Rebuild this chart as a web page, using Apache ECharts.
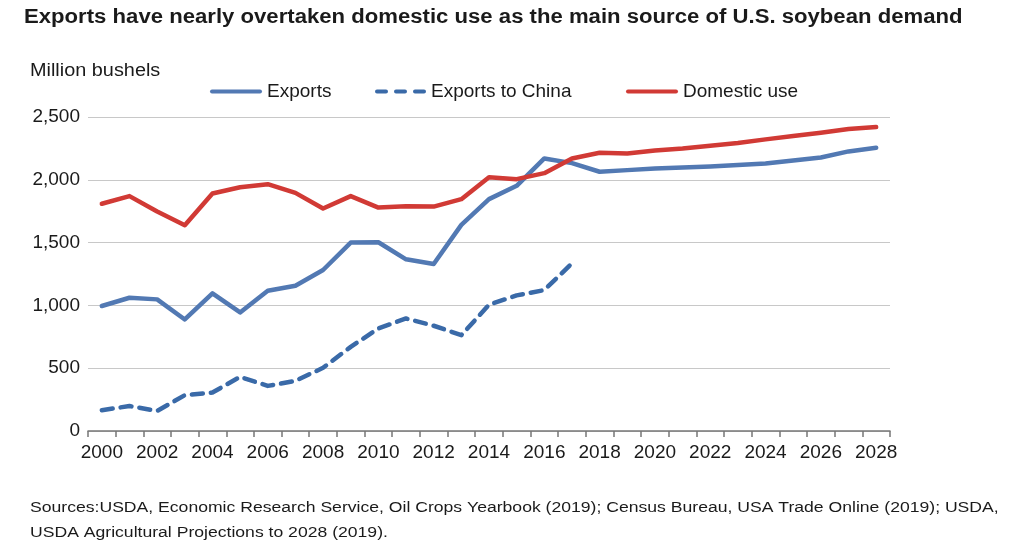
<!DOCTYPE html>
<html>
<head>
<meta charset="utf-8">
<script src="https://cdn.jsdelivr.net/npm/echarts@6/dist/echarts.min.js"></script>
<style>
html,body{margin:0;padding:0;background:#fff;}
#chart{width:1024px;height:545px;}
</style>
</head>
<body>
<div id="chart"></div>
<script>
const years = ['2000','2001','2002','2003','2004','2005','2006','2007','2008','2009','2010','2011','2012','2013','2014','2015','2016','2017','2018','2019','2020','2021','2022','2023','2024','2025','2026','2027','2028'];
const exportsData = [995,1061,1048,888,1096,944,1117,1157,1282,1500,1503,1367,1330,1641,1846,1952,2170,2133,2064,2077,2090,2098,2106,2117,2130,2154,2178,2226,2255];
const chinaData = [165,199,160,285,306,431,359,399,503,670,816,896,838,763,1005,1080,1122,1335];
const domesticData = [1809,1870,1747,1638,1891,1941,1965,1896,1771,1870,1779,1790,1787,1846,2021,2005,2053,2170,2215,2210,2234,2250,2271,2293,2322,2348,2375,2404,2420];
const titleText = 'Exports have nearly overtaken domestic use as the main source of U.S. soybean demand';
const unitText = 'Million bushels';
const sourceText = 'Sources:USDA, Economic Research Service, Oil Crops Yearbook (2019); Census Bureau, USA Trade Online (2019); USDA,\nUSDA Agricultural Projections to 2028 (2019).';

const FONT = '"Liberation Sans", Arial, Helvetica, sans-serif';
const TXT = '#1a1a1a';
const SX = 1.135;
const chart = echarts.init(document.getElementById('chart'), null, {renderer:'canvas'});
const legendText = {fontFamily: FONT, fontSize: 19, color: TXT};
const solidIcon = 'path://M2,0h48a2,2 0 0 1 0,4h-48a2,2 0 0 1 0,-4z';
const dashIcon = 'path://M2,0h9a2,2 0 0 1 0,4h-9a2,2 0 0 1 0,-4zM21,0h9a2,2 0 0 1 0,4h-9a2,2 0 0 1 0,-4zM40,0h9a2,2 0 0 1 0,4h-9a2,2 0 0 1 0,-4z';
chart.setOption({
  animation: false,
  backgroundColor: '#ffffff',
  graphic: [
    {type:'text', x: 24, y: 8, scaleX: SX, style:{text: titleText, fontFamily: FONT, fontSize: 19.5, fontWeight: 'bold', fill: TXT, textVerticalAlign:'top'}},
    {type:'text', x: 30, y: 62, scaleX: SX, style:{text: unitText, fontFamily: FONT, fontSize: 17.5, fill: TXT, textVerticalAlign:'top'}},
    {type:'text', x: 30, y: 495, scaleX: SX, style:{text: sourceText, fontFamily: FONT, fontSize: 15.5, fill: TXT, lineHeight: 25, textVerticalAlign:'top'}}
  ],
  legend: [
    {data:[{name:'Exports', icon: solidIcon}], left: 205, top: 77, itemWidth: 52, itemHeight: 4.5, itemGap: 0, textStyle: legendText},
    {data:[{name:'Exports to China', icon: dashIcon}], left: 370, top: 77, itemWidth: 51, itemHeight: 4.5, itemGap: 0, textStyle: legendText},
    {data:[{name:'Domestic use', icon: solidIcon}], left: 621, top: 77, itemWidth: 52, itemHeight: 4.5, itemGap: 0, textStyle: legendText}
  ],
  grid: {left: 88, right: 134, top: 117, bottom: 114, containLabel: false},
  xAxis: {
    type: 'category', data: years, boundaryGap: true,
    axisLine: {lineStyle: {color: '#777', width: 1.5}},
    axisTick: {show: true, interval: 0, length: 6, lineStyle: {color: '#777', width: 1.5}},
    axisLabel: {interval: 1, fontFamily: FONT, fontSize: 19, color: TXT, margin: 12}
  },
  yAxis: {
    type: 'value', min: 0, max: 2500, interval: 500,
    axisLine: {show: false}, axisTick: {show: false},
    splitLine: {lineStyle: {color: '#c8c8c8', width: 1.2}},
    axisLabel: {fontFamily: FONT, fontSize: 19, color: TXT, margin: 8,
      formatter: v => v.toLocaleString('en-US')}
  },
  series: [
    {name:'Exports', type:'line', data: exportsData, showSymbol:false, symbol:'none',
      lineStyle:{color:'#5279b3', width:4.5, cap:'round', join:'round'}, itemStyle:{color:'#5279b3'}, z:3},
    {name:'Exports to China', type:'line', data: chinaData, showSymbol:false, symbol:'none',
      lineStyle:{color:'#3a6aa8', width:4.5, type:[11,8], cap:'round', join:'round'}, itemStyle:{color:'#3a6aa8'}, z:2},
    {name:'Domestic use', type:'line', data: domesticData, showSymbol:false, symbol:'none',
      lineStyle:{color:'#d13a35', width:4.5, cap:'round', join:'round'}, itemStyle:{color:'#d13a35'}, z:4}
  ]
});
</script>
</body>
</html>
